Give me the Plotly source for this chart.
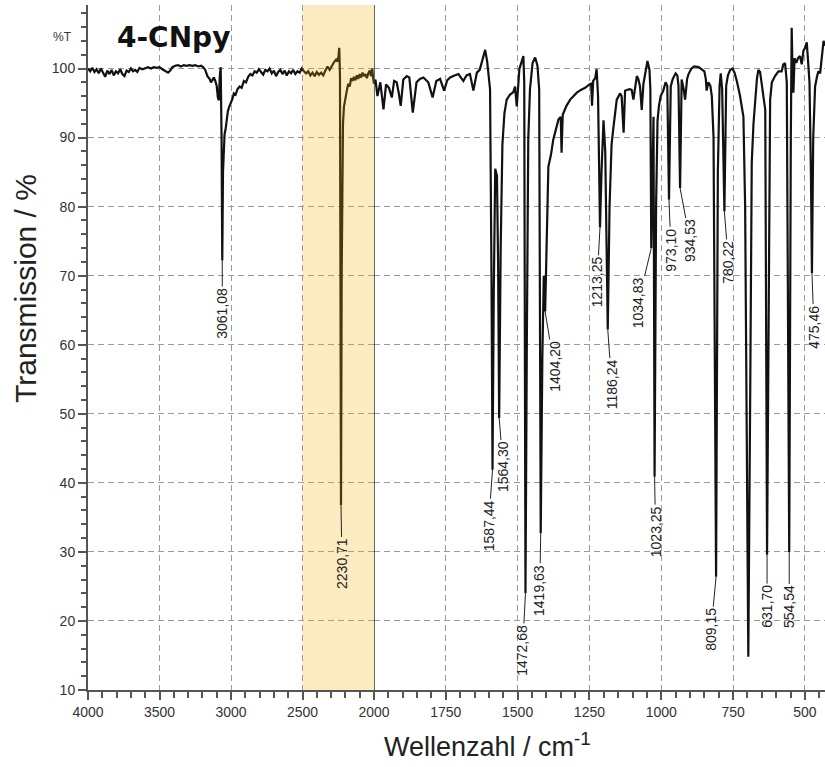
import plotly.graph_objects as go

# ---------------- data ----------------
wavenumber = [
    4000, 3985, 3970, 3955, 3940, 3925, 3910, 3895, 3880, 3865, 3850, 3835, 3820, 3805, 3790, 3775,
    3760, 3745, 3730, 3715, 3700, 3685, 3670, 3655, 3640, 3620, 3600, 3580, 3560, 3540, 3520, 3500,
    3480, 3460, 3440, 3425, 3410, 3390, 3370, 3350, 3330, 3310, 3290, 3270, 3250, 3230, 3210, 3195,
    3180, 3165, 3150, 3140, 3130, 3120, 3110, 3100, 3092, 3085, 3078, 3072, 3066, 3061.08, 3056, 3050,
    3045, 3038, 3030, 3022, 3012, 3000, 2990, 2980, 2968, 2955, 2940, 2925, 2910, 2895, 2880, 2865,
    2850, 2835, 2820, 2805, 2790, 2775, 2760, 2745, 2730, 2715, 2700, 2685, 2670, 2655, 2640, 2625,
    2610, 2595, 2580, 2565, 2550, 2535, 2520, 2505, 2490, 2475, 2460, 2445, 2430, 2415, 2400, 2385,
    2370, 2355, 2340, 2325, 2310, 2295, 2280, 2265, 2255, 2248, 2243, 2238, 2230.71, 2226, 2222, 2217,
    2210, 2200, 2190, 2180, 2170, 2160, 2150, 2140, 2130, 2120, 2110, 2100, 2090, 2080, 2070, 2060,
    2050, 2040, 2030, 2020, 2012, 2006, 2000,
    1995, 1988, 1978, 1967, 1958, 1948, 1938, 1930, 1921, 1914, 1907, 1898, 1886, 1877, 1865, 1852,
    1840, 1828, 1818, 1811, 1796, 1783, 1770, 1756, 1745, 1735, 1720, 1706, 1696, 1689, 1678, 1666,
    1654, 1642, 1632, 1625, 1613, 1606, 1600, 1596, 1591, 1587.44, 1583, 1578, 1572, 1568, 1564.30, 1559,
    1553, 1546, 1538, 1527, 1515, 1509, 1503, 1494, 1486, 1480, 1477, 1472.68, 1468, 1463, 1457, 1448,
    1439, 1431, 1425, 1419.63, 1414, 1409, 1404.20, 1400, 1393, 1384, 1376, 1366, 1358, 1350, 1347, 1343,
    1330, 1317, 1305, 1294, 1280, 1265, 1250, 1244, 1241, 1237, 1230, 1225, 1220, 1213.25, 1208, 1201,
    1195, 1186.24, 1180, 1173, 1167, 1155, 1143, 1138, 1131, 1126, 1120, 1110, 1103, 1097, 1085, 1080,
    1074, 1068, 1062, 1056, 1048, 1041, 1038, 1034.83, 1030, 1027, 1023.25, 1018, 1013, 1008, 1002, 993,
    985, 979, 973.10, 967, 960, 950, 944, 940, 934.53, 929, 922, 917, 910, 905, 895, 885,
    870, 858, 850, 845, 842, 836, 829, 824, 818, 809.15, 803, 797, 793, 788, 780.22, 774,
    768, 760, 752, 745, 737, 726, 720, 714, 708, 697, 690, 685, 679, 673, 667, 662,
    656, 650, 643, 638, 631.70, 626, 621, 615, 604, 592, 581, 575, 569, 563, 554.54, 549,
    546, 543, 540, 536, 530, 524, 517, 511, 505, 499, 493.5, 488, 484, 479, 475.46, 471,
    464.5, 458, 453, 447, 441, 435, 430,
]
transmission = [
    100.0, 99.6, 100.1, 99.5, 99.9, 99.3, 100.0, 99.4, 98.8, 99.7, 99.2, 99.8, 99.0, 99.6, 99.3, 99.9,
    99.2, 98.9, 99.7, 99.5, 100.0, 99.6, 99.8, 99.5, 100.1, 99.9, 100.0, 100.2, 100.0, 100.2, 100.1, 100.2,
    99.9, 99.7, 99.4, 99.7, 100.2, 100.4, 100.5, 100.3, 100.5, 100.4, 100.5, 100.4, 100.5, 100.3, 100.4, 100.2,
    99.8, 98.9, 98.5, 98.0, 98.4, 98.7, 98.2, 97.5, 95.8, 95.4, 99.0, 100.2, 90.0, 72.2, 85.0, 89.5,
    90.5, 91.2, 92.5, 93.8, 94.5, 95.0, 95.6, 96.4, 96.2, 97.0, 97.4, 97.2, 98.2, 98.0, 98.8, 99.2,
    99.0, 99.6, 99.4, 99.9, 99.5, 99.1, 99.8, 99.6, 100.0, 99.3, 99.7, 98.9, 99.5, 99.8, 99.2, 99.7,
    99.0, 99.6, 99.3, 99.8, 99.2, 99.6, 99.4, 100.0, 99.6, 99.3, 99.6, 99.0, 99.4, 98.9, 99.5, 99.1,
    99.4, 99.0, 99.7, 100.3, 99.8, 100.4, 100.9, 101.3, 101.0, 101.8, 103.0, 99.0, 36.8, 70.0, 88.5, 92.0,
    94.5, 96.0, 96.8, 97.8, 97.4, 98.6, 98.2, 98.8, 98.3, 99.0, 98.5, 99.2, 98.7, 99.4, 98.9, 99.2,
    98.6, 99.3, 99.7, 98.9, 100.0, 98.6, 97.8,
    98.4, 96.0, 98.0, 94.1, 97.7, 97.2, 95.8, 98.2, 98.0, 96.5, 94.6, 98.4, 98.9, 98.7, 93.6, 98.0,
    98.5, 98.7, 98.3, 98.0, 95.8, 98.2, 98.5, 96.8, 98.3, 98.7, 99.0, 99.2, 98.6, 98.2, 99.0, 99.2,
    96.8, 99.4, 99.8, 100.9, 102.7, 101.0, 99.0, 97.0, 70.0, 41.9, 68.0, 85.5, 84.5, 72.0, 49.4, 74.0,
    89.0, 93.5, 95.5, 96.2, 96.6, 97.4, 94.5, 99.9, 101.0, 101.8, 98.0, 24.0, 60.0, 89.7, 97.0, 100.8,
    101.6, 100.4, 97.0, 32.7, 58.0, 70.0, 64.8, 75.0, 85.8, 87.5, 89.7, 91.3, 92.6, 93.0, 87.8, 93.3,
    94.6, 95.5, 96.0, 96.5, 96.9, 97.2, 97.7, 97.8, 94.6, 98.2, 98.6, 99.9, 96.0, 77.0, 85.0, 92.5,
    88.0, 62.2, 80.0, 89.0, 91.3, 95.5, 96.4, 96.0, 90.7, 96.8, 96.9, 97.0, 96.9, 95.5, 98.9, 98.5,
    97.4, 94.0, 97.8, 99.2, 101.1, 99.8, 97.0, 74.0, 90.0, 93.0, 40.9, 80.0, 92.5, 94.6, 96.0, 96.8,
    98.0, 97.5, 81.0, 97.4, 98.5, 99.3, 99.0, 97.5, 82.7, 98.4, 97.0, 95.5, 98.5, 99.2, 100.0, 100.3,
    100.2, 99.8, 99.6, 98.5, 96.8, 98.0, 97.5, 96.0, 90.0, 26.4, 85.0, 97.5, 99.3, 97.0, 79.3, 97.5,
    99.0, 99.8, 100.0, 99.4, 98.2, 96.1, 94.5, 93.0, 80.0, 14.8, 55.0, 86.4, 92.0, 95.5, 98.5, 99.8,
    99.5, 97.7, 95.5, 94.0, 29.6, 75.0, 95.5, 98.0, 98.9, 99.6, 99.6, 100.6, 100.8, 98.0, 30.0, 90.0,
    105.9, 99.5, 96.5, 101.5, 100.8, 101.5, 101.8, 100.6, 102.6, 103.0, 103.8, 100.5, 98.0, 85.0, 70.4, 90.0,
    97.4, 98.8, 99.6, 99.3, 101.8, 104.0, 103.3,
]

peak_labels = ["3061,08", "2230,71", "1587,44", "1564,30", "1472,68", "1419,63", "1404,20",
               "1213,25", "1186,24", "1034,83", "1023,25", "973,10", "934,53", "809,15",
               "780,22", "631,70", "554,54", "475,46"]
peak_wn = [3061.08, 2230.71, 1587.44, 1564.30, 1472.68, 1419.63, 1404.20,
           1213.25, 1186.24, 1034.83, 1023.25, 973.10, 934.53, 809.15,
           780.22, 631.70, 554.54, 475.46]
peak_T = [72.2, 36.8, 41.9, 49.4, 24.0, 32.7, 64.8,
          77.0, 62.2, 74.0, 40.9, 81.0, 82.7, 26.4,
          79.3, 29.6, 30.0, 70.4]

x_ticks_high = [4000, 3500, 3000, 2500, 2000]
x_ticks_low = [1750, 1500, 1250, 1000, 750, 500]
y_ticks = [10, 20, 30, 40, 50, 60, 70, 80, 90, 100]

title_text = "4-CNpy"
x_title = "Wellenzahl / cm<sup>-1</sup>"
y_title = "Transmission / %"
band = [2500, 2000]

# ---------------- layout helpers (pixel offsets of labels) ----------------
label_offsets = [(0, 53), (1, 59), (-4, 56), (4, 49), (-3, 57), (-1, 57), (9, 55),
                 (-3, 55), (4, 55), (-13, 55), (1, 55), (2, 50), (10, 53), (-5, 53),
                 (4, 51), (0, 52), (0, 55), (2, 54)]

FONT = "Liberation Sans, Arial, sans-serif"

hi_w = [w for w in wavenumber if w >= 2000]
hi_t = [t for w, t in zip(wavenumber, transmission) if w >= 2000]
lo_w = [w for w in wavenumber if w <= 2000]
lo_t = [t for w, t in zip(wavenumber, transmission) if w <= 2000]

fig = go.Figure()
line_style = dict(color="#111111", width=2.2)
fig.add_trace(go.Scatter(x=hi_w, y=hi_t, mode="lines", line=line_style,
                         xaxis="x", yaxis="y", showlegend=False, hoverinfo="skip"))
fig.add_trace(go.Scatter(x=lo_w, y=lo_t, mode="lines", line=line_style,
                         xaxis="x2", yaxis="y", showlegend=False, hoverinfo="skip"))

split = (374 - 88) / 737.0
grid = dict(showgrid=True, gridcolor="#9a9a9a", gridwidth=1, griddash="6px,4px")
axis_common = dict(showline=True, linecolor="#555555", linewidth=2, ticks="outside",
                   ticklen=8, tickwidth=1.5, tickcolor="#555555", automargin=False,
                   tickfont=dict(family=FONT, size=14, color="#333333"), zeroline=False, **grid)

fig.update_layout(
    template="none",
    width=825, height=767, autosize=False,
    margin=dict(l=88, r=0, t=5, b=77, pad=0, autoexpand=False),
    paper_bgcolor="white", plot_bgcolor="white",
    font=dict(family=FONT, color="#222222"),
    xaxis=dict(domain=[0, split], range=[4000, 2000], anchor="y",
               tickmode="array", tickvals=x_ticks_high,
               minor=dict(tickmode="linear", tick0=0, dtick=100, ticks="outside", ticklen=6,
                          tickcolor="#555555", showgrid=False),
               **axis_common),
    xaxis2=dict(domain=[split, 1], range=[2000, 430], anchor="y",
                tickmode="array", tickvals=x_ticks_low,
                minor=dict(tickmode="linear", tick0=0, dtick=50, ticks="outside", ticklen=6,
                           tickcolor="#555555", showgrid=False),
                **axis_common),
    yaxis=dict(range=[10, 109.2], anchor="x", tickmode="array", tickvals=y_ticks,
               minor=dict(tickmode="linear", tick0=0, dtick=2, ticks="outside", ticklen=5,
                          tickcolor="#555555", showgrid=False),
               **axis_common),
)

# shaded band and break line
fig.add_shape(type="rect", xref="x", yref="paper", x0=band[0], x1=band[1], y0=0, y1=1,
              fillcolor="rgba(242,172,9,0.25)", line=dict(width=0), layer="above")
fig.add_shape(type="line", xref="x2", yref="paper", x0=band[1], x1=band[1], y0=0, y1=1,
              line=dict(color="#333333", width=1.5), layer="above")

# peak labels
for lab, w, t, (ax, ay) in zip(peak_labels, peak_wn, peak_T, label_offsets):
    fig.add_annotation(x=w, y=t, xref="x" if w >= 2000 else "x2", yref="y",
                       text=lab, textangle=-90, showarrow=True, arrowhead=0,
                       arrowwidth=1, arrowcolor="#222222", ax=ax, ay=ay, standoff=0,
                       font=dict(family=FONT, size=14, color="#222222"))

# title and axis titles
fig.add_annotation(text="<b>" + title_text + "</b>", xref="paper", yref="paper",
                   x=27 / 737, y=(690 - 37) / 685, xanchor="left", yanchor="middle",
                   showarrow=False, font=dict(family="DejaVu Sans, sans-serif", size=28, color="#111111"))
fig.add_annotation(text="%T", xref="paper", yref="paper",
                   x=(62 - 88) / 737, y=(690 - 37) / 685, xanchor="center", yanchor="middle",
                   showarrow=False, font=dict(family=FONT, size=12, color="#333333"))
fig.add_annotation(text=y_title, xref="paper", yref="paper", textangle=-90,
                   x=(25 - 88) / 737, y=(690 - 289) / 685, xanchor="center", yanchor="middle",
                   showarrow=False, font=dict(family=FONT, size=30, color="#222222"))
fig.add_annotation(text=x_title, xref="paper", yref="paper",
                   x=(487 - 88) / 737, y=(690 - 745) / 685, xanchor="center", yanchor="middle",
                   showarrow=False, font=dict(family=FONT, size=27, color="#222222"))

fig.write_html(
    "out.html",
    config={"displayModeBar": False, "responsive": False},
    post_script=(
        "document.body.style.margin='0px';"
        "document.body.style.overflow='hidden';"
        "document.documentElement.style.overflow='hidden';"
    ),
)
